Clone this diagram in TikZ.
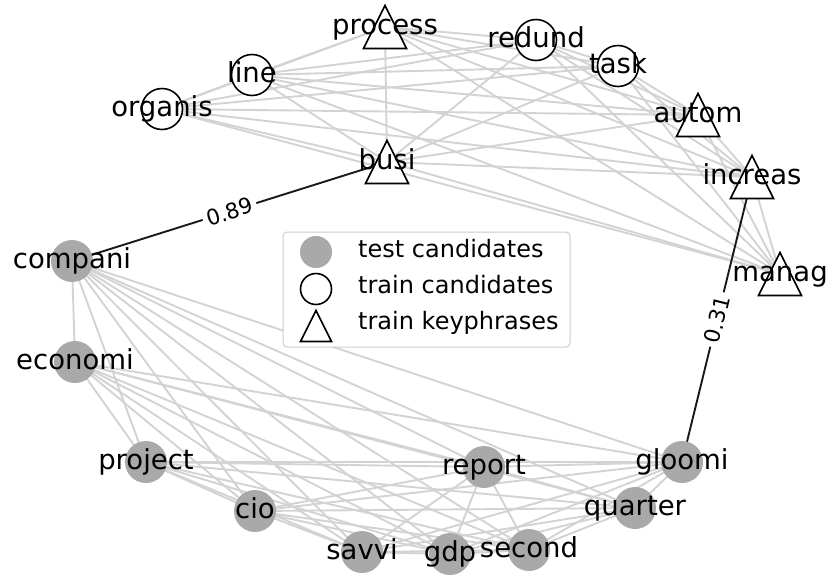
\documentclass[tikz,border=0pt]{standalone}
\usepackage{fontspec}
\setmainfont{DejaVu Sans}
\pgfdeclarelayer{edges}
\pgfdeclarelayer{marks}
\pgfsetlayers{edges,marks,main}
\definecolor{edgegray}{HTML}{D3D3D3}
\definecolor{testgray}{HTML}{A9A9A9}
\definecolor{legendline}{HTML}{CCCCCC}
\begin{document}
\begin{tikzpicture}[x=1pt,y=-1pt,
  lab/.style={font=\fontsize{27.5}{30}\selectfont, inner sep=0pt, text height=20.5pt, text depth=6.5pt},
  legtext/.style={font=\fontsize{24}{28}\selectfont, inner sep=0pt, anchor=west, text height=18pt, text depth=5.5pt},
  wlabel/.style={font=\fontsize{21.5}{24}\selectfont, fill=white, inner sep=4pt, sloped, rounded corners=3pt},
  lightedge/.style={draw=edgegray, line width=1.9pt},
  strongedge/.style={draw=black!90, line width=1.9pt},
  testmark/.style={fill=testgray},
  openmark/.style={draw=black, fill=white, line width=1.6pt},
  legendbox/.style={draw=legendline, line width=1pt, fill=white, rounded corners=4pt, inner sep=0pt}
]
\useasboundingbox (0,0) rectangle (829,574);

% graph nodes (labels)
\foreach \n/\x/\y in {compani/72/261, economi/75/362, project/146/462, cio/255/511,
  savvi/362/552, gdp/450/554, second/529/550, report/484/467, quarter/635/508, gloomi/682/462,
  line/252/75, organis/162/109, redund/536/40, task/618/66,
  process/385/27, busi/387/162, autom/698/115, increas/752/177, manag/780/274}
  \node[lab] (\n) at (\x,\y) {\n};

% markers
\begin{pgfonlayer}{marks}
\foreach \n in {compani,economi,project,cio,savvi,gdp,second,report,quarter,gloomi}
  \fill[testmark] (\n.center) circle[radius=21];
\foreach \n in {line,organis,redund,task}
  \draw[openmark] (\n.center) circle[radius=20.5];
\foreach \n in {process,busi,autom,increas,manag}
  \draw[openmark] (\n.center) +(0,-21.5) -- +(21.5,21.5) -- +(-21.5,21.5) -- cycle;
\end{pgfonlayer}

% edges
\begin{pgfonlayer}{edges}
\foreach \a [count=\i] in {process,busi,line,organis,redund,task,autom,increas,manag}
  \foreach \b [count=\j] in {process,busi,line,organis,redund,task,autom,increas,manag}
    {\ifnum\j>\i \draw[lightedge] (\a.center) -- (\b.center);\fi}
\foreach \a [count=\i] in {compani,economi,project,cio,savvi,gdp,second,report,quarter,gloomi}
  \foreach \b [count=\j] in {compani,economi,project,cio,savvi,gdp,second,report,quarter,gloomi}
    {\ifnum\j>\i \draw[lightedge] (\a.center) -- (\b.center);\fi}
\draw[strongedge] (compani.center) -- (busi.center);
\draw[strongedge] (gloomi.center) -- (increas.center);
\end{pgfonlayer}

% edge labels
\path (compani.center) -- node[wlabel] (w1) {0.89} (busi.center);
\path (gloomi.center) -- node[wlabel] (w2) {0.31} (increas.center);

% legend
\node[legendbox, minimum width=287pt, minimum height=115pt] (legend) at (426.5,289.5) {};
\node[legtext] (legtest) at (358,251) {test candidates};
\node[legtext] (legcand) at (358,287) {train candidates};
\node[legtext] (legkey) at (358,323) {train keyphrases};
\fill[testmark] (316,252) circle[radius=16];
\draw[openmark] (316,289) circle[radius=15.5];
\draw[openmark] (316,326) +(0,-15.5) -- +(15.5,15.5) -- +(-15.5,15.5) -- cycle;
\end{tikzpicture}
\end{document}
